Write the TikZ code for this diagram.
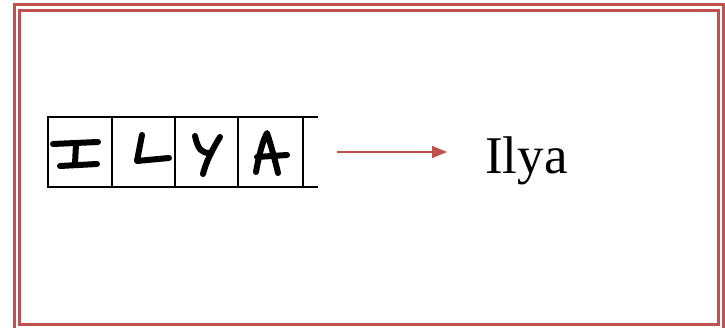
\documentclass[tikz,border=0pt]{standalone}
\usepackage{fontspec}
\setmainfont{Liberation Serif}
\usetikzlibrary{arrows.meta}
\definecolor{frame}{HTML}{C0504D}
\tikzset{
  frameline/.style={draw=frame, line width=3pt},
  cellline/.style={draw=black, line width=2pt},
  pen/.style={draw=black, line width=6pt, line cap=round, line join=round},
  redarrow/.style={draw=frame, line width=2pt, -{Triangle[length=15pt,width=12pt]}},
}
\begin{document}
\begin{tikzpicture}[x=1pt,y=-1pt]
\useasboundingbox (0,0) rectangle (725,328);
% double frame
\draw[frameline] (14.5,5) rectangle (723.5,335);
\draw[frameline] (19.5,11) rectangle (718,325);
% handwritten strip
\draw[cellline] (318,117) -- (48,117) -- (48,187.5) -- (318,187.5);
\foreach \xx in {112,175,238,303} \draw[cellline] (\xx,117) -- (\xx,187.5);
% I
\draw[pen] (53,144) -- (98,142);
\draw[pen] (76,144) -- (75,164);
\draw[pen] (60,166) -- (97,164);
% L
\draw[pen] (142,135) -- (137,161) -- (169,158);
% Y
\draw[pen] (195,136) .. controls (198,150) and (202,153) .. (210,153);
\draw[pen] (220,137) .. controls (212,150) and (206,162) .. (203,174);
% A
\draw[pen] (256,172) .. controls (259,155) and (263,140) .. (267,133) .. controls (271,145) and (275,160) .. (278,173);
\draw[pen] (257,157) -- (287,155);
% arrow and word
\coordinate (arrowstart) at (337,152);
\coordinate (arrowend) at (447,152);
\node[anchor=base west, inner sep=0pt, font=\fontsize{53}{60}\selectfont] (word) at (485,174) {Ilya};
\draw[redarrow] (arrowstart) -- (arrowend);
\end{tikzpicture}
\end{document}
